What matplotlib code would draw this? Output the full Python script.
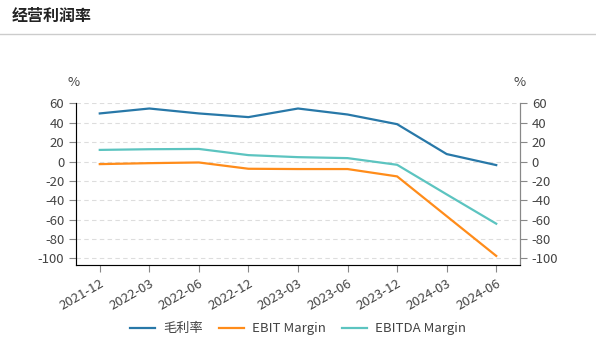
import numpy as np
import matplotlib.pyplot as plt

plt.rcParams['font.family'] = ['Noto Sans CJK SC', 'DejaVu Sans']
plt.rcParams['axes.unicode_minus'] = False

# data
periods = ['2021-12', '2022-03', '2022-06', '2022-12', '2023-03',
           '2023-06', '2023-12', '2024-03', '2024-06']
gross_margin = [49.7, 54.8, 49.7, 45.9, 54.8, 48.6, 38.6, 7.7, -3.7]
ebit_margin = [-2.7, -1.7, -1.0, -7.5, -7.8, -7.8, -15.4, -56.5, -97.6]
ebitda_margin = [12.0, 12.7, 13.0, 6.6, 4.5, 3.5, -3.4, -34.0, -64.3]
yticks = [60, 40, 20, 0, -20, -40, -60, -80, -100]

fig = plt.figure(figsize=(5.96, 3.6), dpi=100)

# header
fig.text(0.02, 0.955, '经营利润率', fontsize=11.5, fontweight='bold',
         color='#222222', va='center', ha='left')
fig.add_artist(plt.Line2D([0, 1], [0.905, 0.905], color='#cccccc', lw=1))

ax = fig.add_axes([0.1275, 0.2639, 0.745, 0.4500])
x = np.arange(len(periods))
ax.plot(x, gross_margin, color='#2878a8', lw=1.6, label='毛利率')
ax.plot(x, ebit_margin, color='#ff8c1a', lw=1.6, label='EBIT Margin')
ax.plot(x, ebitda_margin, color='#5cc4c0', lw=1.6, label='EBITDA Margin')

ax.set_xlim(-0.48, 8.48)
ax.set_ylim(-107, 60.5)
ax.set_yticks(yticks)
ax.set_xticks(x)
ax.set_xticklabels(periods, rotation=30, ha='right', rotation_mode='anchor')

for y in yticks:
    ax.axhline(y, color='#dddddd', lw=0.8, ls=(0, (4, 3)), zorder=0)

ax.spines['top'].set_visible(False)
for side in ['left', 'right', 'bottom']:
    ax.spines[side].set_color('#888888')
ax.tick_params(axis='both', colors='#888888', labelcolor='#444444',
               labelsize=9.5, length=5)

ax2 = ax.twinx()
ax2.set_ylim(ax.get_ylim())
ax2.set_yticks(yticks)
ax2.spines['top'].set_visible(False)
ax2.spines['right'].set_color('#888888')
ax2.tick_params(axis='y', colors='#888888', labelcolor='#444444',
                labelsize=9.5, length=5)

fig.text(0.123, 0.76, '%', fontsize=9.5, color='#444444', ha='center')
fig.text(0.872, 0.76, '%', fontsize=9.5, color='#444444', ha='center')

ax.legend(loc='upper center', bbox_to_anchor=(0.5, -0.28), ncol=3,
          frameon=False, fontsize=9.5, handlelength=1.9, handletextpad=0.6,
          columnspacing=1.2, labelcolor='#444444')

fig.savefig('out.png', dpi=100)
